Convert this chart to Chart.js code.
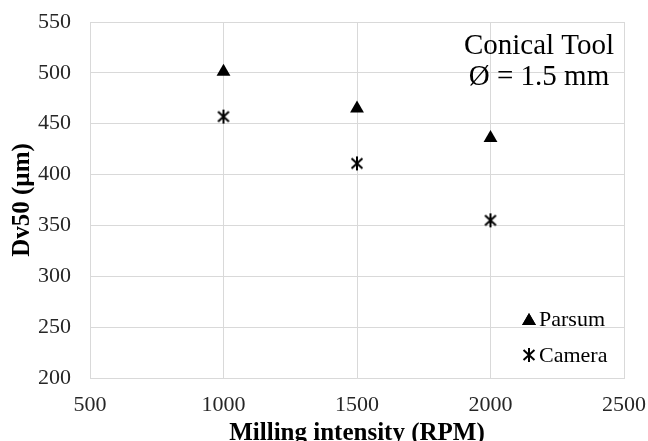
<!doctype html>
<html lang="en">
  <head>
    <meta charset="utf-8">
    <title>Dv50 vs milling intensity</title>
    <style>
      * { margin: 0; padding: 0; }
      body { background: white; }
      .chartBox { width: 648px; height: 441px; }
    </style>
  </head>
  <body>
    <div class="chartBox"><canvas id="myChart"></canvas></div>
    <script src="https://cdn.jsdelivr.net/npm/chart.js/dist/chart.umd.min.js"></script>
    <script>
// data
const rpm = [1000, 1500, 2000];
const parsum = [501, 465, 436];
const camera = [457, 411, 355];
const xTicks = [500, 1000, 1500, 2000, 2500];
const yTicks = [200, 250, 300, 350, 400, 450, 500, 550];

const serif = "'Liberation Serif', 'Times New Roman', serif";

// asterisk marker (x with a vertical stroke)
function makeStar(size) {
  const c = document.createElement('canvas');
  c.width = size; c.height = size;
  const g = c.getContext('2d');
  const m = size / 2, r = size / 2 - 1;
  g.strokeStyle = '#000';
  g.lineWidth = 2;
  g.beginPath();
  g.moveTo(m - r * 0.78, m - r * 0.7); g.lineTo(m + r * 0.78, m + r * 0.7);
  g.moveTo(m + r * 0.78, m - r * 0.7); g.lineTo(m - r * 0.78, m + r * 0.7);
  g.moveTo(m, m - r); g.lineTo(m, m + r);
  g.stroke();
  return c;
}
const starImg = makeStar(16);

const toXY = (ys) => rpm.map((x, i) => ({x: x, y: ys[i]}));

const data = {
  datasets: [{
    label: 'Parsum',
    data: toXY(parsum),
    pointStyle: 'triangle',
    pointRadius: 8,
    pointHoverRadius: 8,
    backgroundColor: '#000',
    borderColor: '#000',
    borderWidth: 0
  }, {
    label: 'Camera',
    data: toXY(camera),
    pointStyle: starImg,
    pointRadius: 8,
    backgroundColor: '#000',
    borderColor: '#000'
  }]
};

// text box and legend inside the plot
const extras = {
  id: 'extras',
  afterDraw(chart) {
    const {ctx} = chart;
    ctx.save();
    ctx.fillStyle = '#000';
    ctx.textAlign = 'center';
    ctx.textBaseline = 'middle';
    ctx.font = '29px ' + serif;
    ctx.fillText('Conical Tool', 539, 46);
    ctx.fillText('\u00D8 = 1.5 mm', 539, 77);

    ctx.font = '22px ' + serif;
    ctx.textAlign = 'left';
    const rows = [319, 355];
    chart.data.datasets.forEach((ds, i) => {
      const y = rows[i];
      if (ds.pointStyle === 'triangle') {
        Chart.helpers.drawPoint(ctx, {pointStyle: 'triangle', radius: 8, borderWidth: 0}, 529, y + 2);
        ctx.fillStyle = '#000';
        ctx.fill();
      } else {
        ctx.drawImage(ds.pointStyle, 529 - 8, y - 8);
      }
      ctx.fillStyle = '#000';
      ctx.fillText(ds.label, 539, y + 1);
    });
    ctx.restore();
  }
};

const gridColor = '#d9d9d9';
const tickFont = { family: serif, size: 22 };

const config = {
  type: 'scatter',
  data,
  options: {
    responsive: true,
    maintainAspectRatio: false,
    animation: false,
    layout: { padding: { left: 0, right: 24, top: 22, bottom: 0 } },
    plugins: {
      legend: { display: false },
      tooltip: { enabled: false }
    },
    scales: {
      x: {
        type: 'linear',
        min: xTicks[0],
        max: xTicks[xTicks.length - 1],
        afterBuildTicks: (axis) => { axis.ticks = xTicks.map(v => ({value: v})); },
        afterFit: (axis) => {
          axis.height = 63;
          axis.paddingLeft = 0;
          axis.paddingRight = 0;
        },
        grid: { color: gridColor, drawTicks: false },
        border: { color: gridColor },
        ticks: { color: '#262626', font: tickFont, padding: 14, maxRotation: 0, callback: (v) => String(v) },
        title: {
          display: true,
          text: 'Milling intensity (RPM)',
          color: '#000',
          font: { family: serif, size: 25, weight: 'bold', lineHeight: 1 },
          padding: { top: 0, bottom: -5 }
        }
      },
      y: {
        type: 'linear',
        min: yTicks[0],
        max: yTicks[yTicks.length - 1],
        afterBuildTicks: (axis) => { axis.ticks = yTicks.map(v => ({value: v})); },
        afterFit: (axis) => {
          axis.width = 90;
          axis.paddingTop = 0;
          axis.paddingBottom = 0;
        },
        grid: { color: gridColor, drawTicks: false },
        border: { color: gridColor },
        ticks: { color: '#262626', font: tickFont, padding: 19, callback: (v) => String(v) },
        title: {
          display: true,
          text: 'Dv50 (\u00B5m)',
          color: '#000',
          font: { family: serif, size: 25, weight: 'bold', lineHeight: 1 },
          padding: { top: 10, bottom: 0 }
        }
      }
    }
  },
  plugins: [extras]
};

const myChart = new Chart(document.getElementById('myChart'), config);
    </script>
  </body>
</html>
